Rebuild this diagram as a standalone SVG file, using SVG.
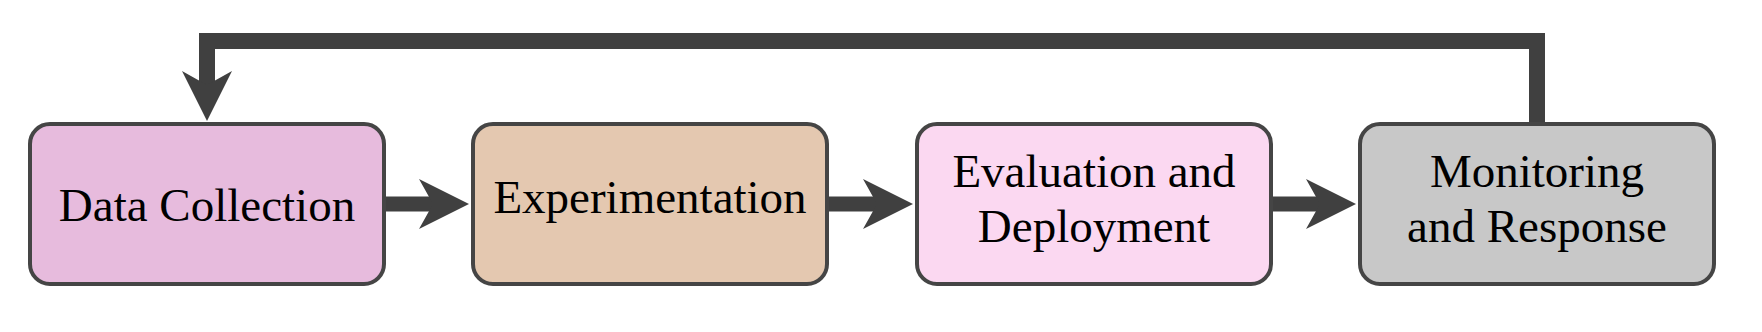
<svg xmlns="http://www.w3.org/2000/svg" width="1762" height="332" viewBox="0 0 1762 332">
<style>
.box{stroke:#454545;stroke-width:4}
.lbl{font-family:"Liberation Serif","Times New Roman",serif;font-size:47px;fill:#000;text-anchor:middle}
.conn{stroke:#404040;fill:none;stroke-linejoin:miter;stroke-linecap:butt}
</style>
<defs>
<marker id="ah" markerUnits="userSpaceOnUse" orient="auto" refX="0" refY="0" markerWidth="80" markerHeight="60" overflow="visible">
<path d="M36 0 L-14 -25 L0 0 L-14 25 Z" fill="#404040"/>
</marker>
</defs>
<rect width="1762" height="332" fill="#fff"/>
<g id="connectors">
<path class="conn" stroke-width="15" d="M386 204 H433" marker-end="url(#ah)"/>
<path class="conn" stroke-width="15" d="M829 204 H877" marker-end="url(#ah)"/>
<path class="conn" stroke-width="15" d="M1273 204 H1320" marker-end="url(#ah)"/>
<path class="conn" stroke-width="16" d="M1537 122 V41 H207 V85" marker-end="url(#ah)"/>
</g>
<g id="data-collection">
<rect class="box" x="30" y="124" width="354" height="160" rx="20" fill="#E7BBDD"/>
<text class="lbl" x="207" y="221">Data Collection</text>
</g>
<g id="experimentation">
<rect class="box" x="473" y="124" width="354" height="160" rx="20" fill="#E4C8B0"/>
<text class="lbl" x="650" y="213">Experimentation</text>
</g>
<g id="evaluation-deployment">
<rect class="box" x="917" y="124" width="354" height="160" rx="20" fill="#FBD8F1"/>
<text class="lbl" x="1094" y="187">Evaluation and</text>
<text class="lbl" x="1094" y="242">Deployment</text>
</g>
<g id="monitoring-response">
<rect class="box" x="1360" y="124" width="354" height="160" rx="20" fill="#C8C8C8"/>
<text class="lbl" x="1537" y="187">Monitoring</text>
<text class="lbl" x="1537" y="242">and Response</text>
</g>
</svg>
